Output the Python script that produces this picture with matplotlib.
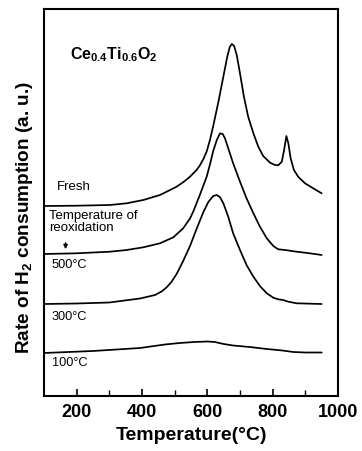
import matplotlib
matplotlib.use("Agg")
import matplotlib.pyplot as plt
from matplotlib.ticker import FixedLocator

plt.rcParams['font.family'] = ['Liberation Sans', 'DejaVu Sans']
plt.rcParams['mathtext.fontset'] = 'custom'
plt.rcParams['mathtext.rm'] = 'Liberation Sans'
plt.rcParams['mathtext.bf'] = 'Liberation Sans:bold'
plt.rcParams['mathtext.it'] = 'Liberation Sans:italic'

# ---- data (temperature in °C, signal in a.u., curves offset vertically) ----
fresh_T = [100, 200, 302, 353, 404, 455, 486, 506, 527, 547, 567, 577, 588, 598, 608, 618, 634,
           649, 661, 669, 675, 682, 690, 700, 712, 725, 741, 756, 771, 792, 807, 817, 828, 835,
           842, 848, 855, 865, 878, 899, 924, 950]
fresh_I = [190, 190.3, 191, 192.7, 196, 201, 206, 209.3, 214, 219.3, 226, 230.5, 237, 244.5, 256,
           270, 294.3, 319.3, 339.3, 349.3, 352, 350, 341, 322.7, 299.3, 279.3, 262.7, 249.3,
           240, 233.3, 231, 230.7, 234.3, 246, 260, 252.7, 237.7, 226, 219.3, 212.7, 207.7,
           202.7]

r500_T = [100, 200, 302, 353, 404, 455, 496, 526, 547, 557, 577, 598, 608, 618, 629, 639, 647,
          654, 664, 679, 700, 720, 741, 761, 782, 802, 817, 838, 873, 914, 950]
r500_I = [142, 142.7, 144.3, 146, 148.7, 152.7, 158.7, 167.7, 177.5, 184.5, 201, 219.3, 231.5, 245,
          256, 262.7, 262, 257.7, 247.7, 232.7, 214.3, 197.7, 182.7, 169.3, 157.7, 150, 146.7,
          146, 144.3, 142.7, 141]

r300_T = [100, 200, 300, 394, 440, 460, 475, 490, 506, 526, 547, 567, 588, 603, 618, 629, 639,
          649, 664, 679, 700, 720, 741, 761, 782, 802, 817, 832, 848, 873, 950]
r300_I = [92, 92.5, 93.5, 97.5, 101, 104.5, 108.5, 114, 122, 135, 150, 167, 184, 194, 200, 201,
          198.7, 192.7, 179.3, 162.7, 146, 131, 119.3, 110, 102.7, 98.3, 96.7, 96, 94.3, 92.7, 92]

r100_T = [100, 250, 394, 470, 516, 560, 600, 623, 650, 679, 730, 782, 830, 863, 900, 950]
r100_I = [43, 45, 48, 51.5, 53, 54, 54.5, 54, 52, 50.5, 49, 47, 45.5, 44, 43.5, 43.5]

xticks_major = [200, 400, 600, 800, 1000]
xticks_minor = [300, 500, 700, 900]

fig = plt.figure(figsize=(3.62, 4.51), dpi=100)
ax = fig.add_axes([44/362, 55/451, 294/362, 387/451])

for T, I in [(fresh_T, fresh_I), (r500_T, r500_I), (r300_T, r300_I), (r100_T, r100_I)]:
    ax.plot(T, I, color='black', lw=1.25, solid_joinstyle='round', solid_capstyle='round')

ax.set_xlim(100, 1000)
ax.set_ylim(0, 387)
ax.xaxis.set_major_locator(FixedLocator(xticks_major))
ax.xaxis.set_minor_locator(FixedLocator(xticks_minor))
ax.set_yticks([])
ax.tick_params(axis='x', which='major', direction='in', length=5, width=1.2,
               labelsize=13, pad=6)
ax.tick_params(axis='x', which='minor', direction='in', length=4, width=1.0)
for lab in ax.get_xticklabels():
    lab.set_fontweight('bold')
for s in ax.spines.values():
    s.set_linewidth(1.5)

ax.set_xlabel('Temperature(°C)', fontsize=14, fontweight='bold', labelpad=4)
ax.set_ylabel(r'Rate of H$_\mathbf{2}$ consumption (a. u.)', fontsize=13.7,
              fontweight='bold')
ax.yaxis.set_label_coords(-0.031, 0.4625)

ax.text(180, 337, r'$\mathbf{Ce_{0.4}Ti_{0.6}O_{2}}$', fontsize=11.5, va='baseline')
ax.text(0.045, 209/387, 'Fresh', transform=ax.transAxes, fontsize=9.5, va='center')
ax.text(0.018, 179.5/387, 'Temperature of', transform=ax.transAxes, fontsize=9.5, va='center')
ax.text(0.018, 168/387, 'reoxidation', transform=ax.transAxes, fontsize=9.5, va='center')
ax.annotate('', xy=(166, 144), xytext=(166, 156),
            arrowprops=dict(arrowstyle='-|>', color='black', lw=1, mutation_scale=6))
ax.text(0.026, 131/387, '500°C', transform=ax.transAxes, fontsize=9.2, va='center')
ax.text(0.026, 79/387, '300°C', transform=ax.transAxes, fontsize=9.2, va='center')
ax.text(0.026, 33/387, '100°C', transform=ax.transAxes, fontsize=9.2, va='center')

fig.savefig('out.png', dpi=100)
